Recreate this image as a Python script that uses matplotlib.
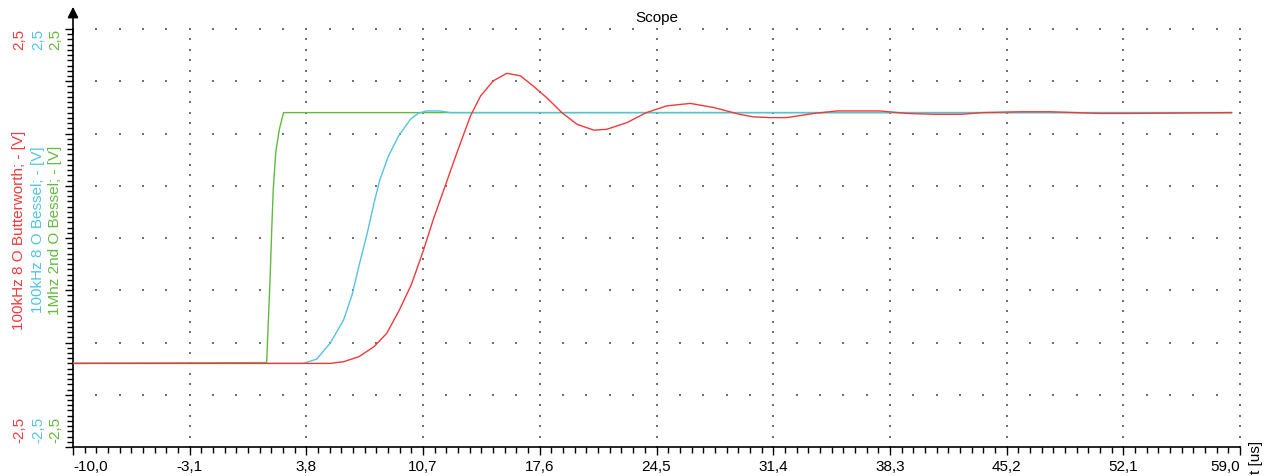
import matplotlib
matplotlib.use('Agg')
import matplotlib.pyplot as plt
import numpy as np

plt.rcParams['font.family'] = ['Liberation Sans', 'DejaVu Sans']

# ---- data (t in us, signal in V) ----
t_red = [-10.0, 5.2, 6.0, 6.9, 7.8, 8.55, 9.3, 10.0, 10.7, 11.3, 12.0, 12.7,
         13.5, 14.1, 14.85, 15.65, 16.45, 17.2, 18.0, 18.9, 19.8, 20.8, 21.55,
         22.75, 23.9, 25.1, 26.5, 27.9, 29.4, 30.2, 31.2, 32.2, 33.8, 35.2,
         37.7, 39.3, 40.9, 42.5, 43.8, 46.0, 47.8, 50.7, 52.3, 58.5]
v_red = [-1.5, -1.5, -1.48, -1.42, -1.30, -1.14, -0.86, -0.56, -0.16, 0.22,
         0.62, 1.02, 1.46, 1.70, 1.88, 1.97, 1.94, 1.82, 1.68, 1.50, 1.36,
         1.29, 1.30, 1.38, 1.50, 1.58, 1.61, 1.56, 1.48, 1.45, 1.44, 1.44,
         1.49, 1.52, 1.52, 1.49, 1.48, 1.48, 1.50, 1.51, 1.51, 1.49, 1.49, 1.50]

t_cyan = [-10.0, 3.6, 4.4, 5.2, 6.0, 6.5, 6.9, 7.4, 7.8, 8.15, 8.65, 9.25,
          9.95, 10.4, 10.9, 11.7, 12.3, 58.5]
v_cyan = [-1.5, -1.5, -1.45, -1.26, -0.98, -0.68, -0.34, 0.06, 0.42, 0.70,
          0.98, 1.22, 1.42, 1.49, 1.52, 1.52, 1.50, 1.50]

t_green = [-10.0, 1.45, 1.65, 1.75, 1.84, 1.99, 2.2, 2.45, 58.5]
v_green = [-1.5, -1.49, -0.5, 0.1, 0.58, 1.03, 1.30, 1.5, 1.5]

labels = ['100kHz 8 O Butterworth; - [V]',
          '100kHz 8 O Bessel; - [V]',
          '1Mhz 2nd O Bessel; - [V]']
col_red = '#f03a3a'
col_cyan = '#52c4e2'
col_green = '#62ba3e'

xmin, xmax, xstep = -10.0, 59.0, 6.9
ymin, ymax, ystep = -2.5, 2.5, 0.625

## figure
W, H = 1272, 477
fig = plt.figure(figsize=(W / 100, H / 100), dpi=100)
ax = fig.add_axes([73 / W, 29 / H, (1240 - 73) / W, (448 - 30) / H])
ax.set_xlim(xmin, xmax)
ax.set_ylim(ymin, ymax)

# dotted grid: dots along major lines at every 2nd minor division
xmaj = xmin + xstep * np.arange(0, 11)
ymaj = ymin + ystep * np.arange(0, 9)
gx, gy = [], []
for yv in ymaj[1:]:
    xs = xmin + (xstep / 5) * np.arange(0, 51)
    gx += list(xs)
    gy += [yv] * len(xs)
for xv in xmaj[1:]:
    ys = ymin + (ystep / 5) * np.arange(0, 41)
    gx += [xv] * len(ys)
    gy += list(ys)
ax.scatter(gx, gy, s=0.6, marker='s', c='#707070', linewidths=0, zorder=1,
           clip_on=False)

# traces
ax.plot(t_green, v_green, color=col_green, lw=1.0, zorder=3)
ax.plot(t_cyan, v_cyan, color=col_cyan, lw=1.0, zorder=4)
ax.plot(t_red, v_red, color=col_red, lw=1.0, zorder=5)

# axes styling
for s in ['top', 'right']:
    ax.spines[s].set_visible(False)
ax.spines['left'].set_linewidth(1.2)
ax.spines['bottom'].set_linewidth(1.2)

ax.set_xticks(xmaj)
ax.set_xticklabels([('%.1f' % v).replace('.', ',') for v in xmaj], fontsize=11)
xl = ax.get_xticklabels()
xl[0].set_horizontalalignment('left')
xl[-1].set_horizontalalignment('right')
ax.set_xticks(xmin + (xstep / 10) * np.arange(0, 101), minor=True)
ax.set_yticks(ymaj)
ax.set_yticklabels([])
ax.set_yticks(ymin + (ystep / 10) * np.arange(0, 81), minor=True)
ax.tick_params(axis='both', which='major', length=6, width=1.0, direction='out')
ax.tick_params(axis='both', which='minor', length=4, width=1.0, direction='out')
ax.tick_params(axis='x', pad=3)

# arrow on top of the y axis
ax.annotate('', xy=(0, 1.053), xytext=(0, 0.99), xycoords='axes fraction',
            arrowprops=dict(arrowstyle='-|>', color='k', lw=1.2,
                            mutation_scale=16, shrinkA=0, shrinkB=0))

ax.set_title('Scope', fontsize=11, pad=6)

# coloured y labels (one column per channel)
cols = [(19, col_red), (38, col_cyan), (55, col_green)]
for (xp, c), lab in zip(cols, labels):
    fig.text(xp / W, 1 - 230 / H, lab, rotation=90, color=c, fontsize=11,
             ha='center', va='center')
    fig.text(xp / W, 1 - 29 / H, '2,5', rotation=90, color=c, fontsize=11,
             ha='center', va='top')
    fig.text(xp / W, 1 - 443 / H, '-2,5', rotation=90, color=c, fontsize=11,
             ha='center', va='bottom')

fig.text(1256 / W, 1 - 457 / H, 't [us]', rotation=90, fontsize=11,
         ha='center', va='center')

plt.savefig('out.png', dpi=100)
